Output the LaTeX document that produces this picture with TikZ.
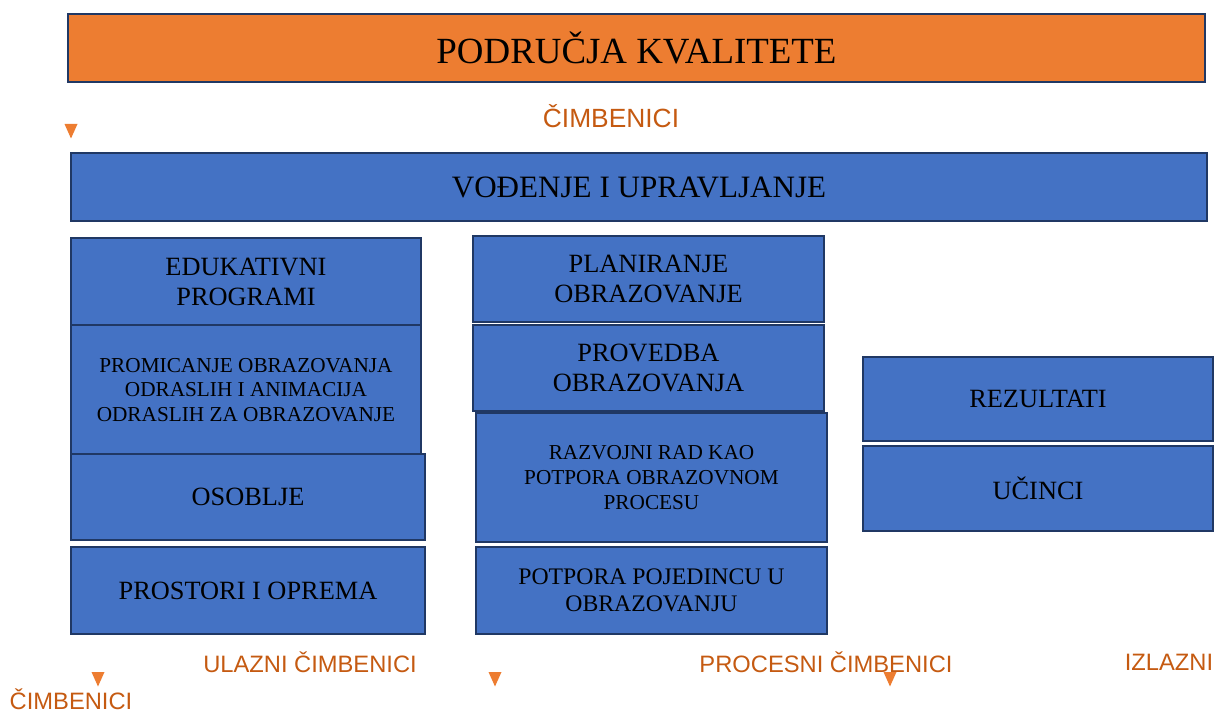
\documentclass[tikz,border=0pt]{standalone}
\usepackage{fontspec}
\setmainfont{Liberation Serif}
\setsansfont{Liberation Sans}
\usepackage{xcolor}
\definecolor{kvorange}{HTML}{ED7D31}
\definecolor{kvtext}{HTML}{C55A11}
\definecolor{kvblue}{HTML}{4472C4}
\definecolor{kvborder}{HTML}{203864}
\newcommand{\fsz}[2]{\fontsize{#1}{#2}\selectfont}

\begin{document}
\begin{tikzpicture}[x=0.02cm,y=-0.02cm,
  field/.style={draw=kvborder, line width=1.1pt, fill=kvblue, align=center, inner sep=0pt},
  headbox/.style={draw=kvborder, line width=1.1pt, fill=kvorange, inner sep=0pt},
  factor/.style={text=kvtext, inner sep=0pt, font=\sffamily\fsz{13.5}{16}},
  marker/.style={fill=kvorange}]
\useasboundingbox (0,0) rectangle (1215,713);
% header
\node [headbox, minimum width=22.74cm, minimum height=1.36cm, font=\fsz{21}{24}] (kval) at (636.5,48) {PODRUČJA KVALITETE};
\node [factor, font=\sffamily\fsz{15}{18}] (cimb) at (611,116) {ČIMBENICI};
\node [field, minimum width=22.72cm, minimum height=1.36cm, font=\fsz{17.7}{20}] (vodj) at (639,187) {VOĐENJE I UPRAVLJANJE};
% ulazni
\node [field, minimum width=7cm, minimum height=1.74cm, font=\fsz{15}{17}] (edu) at (246,281.5) {EDUKATIVNI\\PROGRAMI};
\node [field, minimum width=7cm, minimum height=2.6cm, font=\fsz{12.1}{13.9}] (prom) at (246,390) {PROMICANJE OBRAZOVANJA\\ODRASLIH I ANIMACIJA\\ODRASLIH ZA OBRAZOVANJE};
\node [field, minimum width=7.08cm, minimum height=1.72cm, font=\fsz{15}{17}] (osob) at (248,497) {OSOBLJE};
\node [field, minimum width=7.08cm, minimum height=1.74cm, font=\fsz{15}{17}] (prost) at (248,590.5) {PROSTORI I OPREMA};
% procesni
\node [field, minimum width=7.02cm, minimum height=1.72cm, font=\fsz{15}{17}] (plan) at (648.5,279) {PLANIRANJE\\OBRAZOVANJE};
\node [field, minimum width=7.02cm, minimum height=1.72cm, font=\fsz{15}{17}] (prov) at (648.5,368) {PROVEDBA\\OBRAZOVANJA};
\node [field, minimum width=7.02cm, minimum height=2.58cm, font=\fsz{12.1}{14.2}] (razv) at (651.5,477.5) {RAZVOJNI RAD KAO\\POTPORA OBRAZOVNOM\\PROCESU};
\node [field, minimum width=7.02cm, minimum height=1.74cm, font=\fsz{13.5}{15.3}] (potp) at (651.5,590.5) {POTPORA POJEDINCU U\\OBRAZOVANJU};
% izlazni
\node [field, minimum width=7cm, minimum height=1.68cm, font=\fsz{15}{17}] (rez) at (1038,399) {REZULTATI};
\node [field, minimum width=7cm, minimum height=1.7cm, font=\fsz{15}{17}] (ucin) at (1038,488.5) {UČINCI};
% labels
\node [factor] (ulaz) at (310,662) {ULAZNI ČIMBENICI};
\node [factor] (proc) at (826,662) {PROCESNI ČIMBENICI};
\node [factor] (izl) at (1169,662) {IZLAZNI};
\node [factor] (cimb2) at (71,699) {ČIMBENICI};
% markers
\coordinate (m0) at (71,124);
\coordinate (m1) at (98,672);
\coordinate (m2) at (495,672);
\coordinate (m3) at (890,672);
\foreach \m in {m0,m1,m2,m3}
  \fill [marker] (\m) ++(-6.5,0) -- ++(13,0) -- ++(-6.5,14.5) -- cycle;
\end{tikzpicture}
\end{document}
